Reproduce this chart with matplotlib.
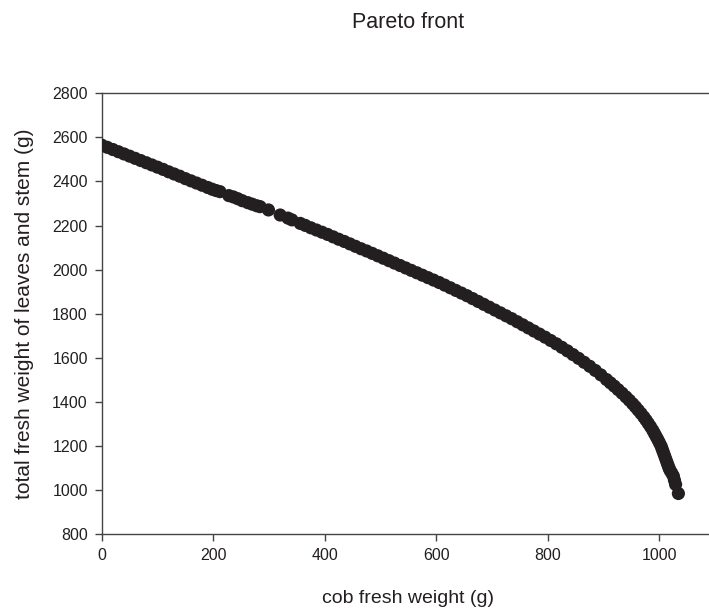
import matplotlib
matplotlib.use("Agg")
import matplotlib.pyplot as plt

plt.rcParams['font.family'] = ['Liberation Sans', 'DejaVu Sans']

# points (cob weight, leaves+stem weight)
cob = [0, 10, 20, 30, 40, 50, 60, 70, 80, 90, 100, 110, 120, 130, 140, 150,
       160, 170, 180, 190, 198, 205,
       212, 228, 236, 244, 252, 262, 270, 278, 284, 299, 320, 334, 341,
       356, 365, 375, 385, 395, 405, 415, 425, 435, 445, 455, 465, 475, 485,
       495, 505, 515, 525, 535, 545, 555, 565, 575, 585, 595, 605, 615, 625,
       635, 645, 655, 665, 675, 685, 695, 705, 715, 725, 735, 745, 755, 765,
       775, 785, 795, 805, 815, 825, 835, 845, 855, 865, 875, 885, 895, 905,
       912, 919, 926, 933, 940, 946, 952, 957, 962, 967, 972, 976, 980, 984,
       988, 991, 994, 997, 1000, 1003, 1005, 1007, 1009, 1011, 1013, 1015,
       1017, 1019, 1022, 1025, 1027, 1029, 1034]
leaves = [2565, 2555, 2545, 2535, 2525, 2515, 2505, 2495, 2485, 2475, 2465,
          2455, 2444, 2434, 2424, 2413, 2403, 2393, 2383, 2373, 2365, 2359,
          2354, 2336, 2330, 2322, 2313, 2304, 2297, 2290, 2286, 2271, 2248,
          2234, 2226,
          2210, 2201, 2190, 2180, 2170, 2160, 2149, 2138, 2128, 2117, 2106,
          2095, 2085, 2074, 2063, 2052, 2041, 2030, 2019, 2008, 1997, 1986,
          1975, 1964, 1953, 1942, 1930, 1918, 1906, 1894, 1882, 1869, 1856,
          1843, 1830, 1817, 1804, 1791, 1778, 1764, 1750, 1736, 1722, 1708,
          1694, 1679, 1664, 1648, 1632, 1615, 1598, 1580, 1562, 1543, 1523,
          1502, 1487, 1472, 1456, 1440, 1423, 1408, 1392, 1378, 1363, 1348,
          1332, 1318, 1303, 1288, 1272, 1258, 1244, 1230, 1215, 1200, 1186,
          1172, 1158, 1144, 1130, 1116, 1102, 1090, 1078, 1064, 1045, 1026,
          985]

xticks = [0, 200, 400, 600, 800, 1000]
yticks = [800, 1000, 1200, 1400, 1600, 1800, 2000, 2200, 2400, 2600, 2800]

ink = '#231f20'

fig = plt.figure(figsize=(7.09, 6.13), dpi=100)
# axes runs past the right edge of the picture, like the reference crop
ax = fig.add_axes([101.7 / 709, 1 - 534.3 / 613, 613.5 / 709, 441 / 613])

ax.scatter(cob, leaves, s=90, color=ink, edgecolors='none', zorder=3)

ax.set_xlim(0, 1100)
ax.set_ylim(800, 2800)
ax.set_xticks(xticks)
ax.set_yticks(yticks)
ax.tick_params(direction='out', length=5, width=1, colors='#444444',
               labelcolor=ink, labelsize=11.5, pad=5)
for s in ax.spines.values():
    s.set_color('#444444')
    s.set_linewidth(1)

ax.set_xlabel('cob fresh weight (g)', fontsize=14, color=ink, labelpad=19)
ax.set_ylabel('total fresh weight of leaves and stem (g)', fontsize=15,
              color=ink, labelpad=13)
ax.set_title('Pareto front', fontsize=15.5, color=ink, pad=47)

fig.savefig('out.png', dpi=100)
